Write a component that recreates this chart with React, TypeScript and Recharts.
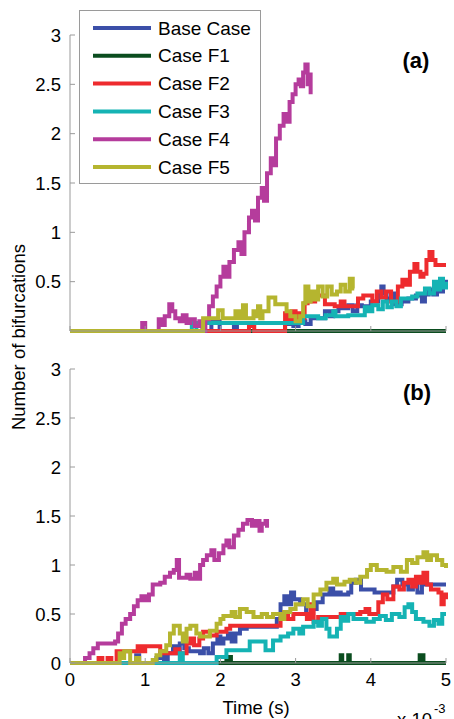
import { LineChart, Line, XAxis, YAxis } from 'recharts';

type Pt = [number, number];

// time in ms (axis reads x 10^-3 s), value = number of bifurcations
const seriesNames = ['Base Case', 'Case F1', 'Case F2', 'Case F3', 'Case F4', 'Case F5'];
const seriesColors = ['#3b4fa8', '#0b4d1f', '#ee2b2e', '#15b3b4', '#b53c9c', '#b5b52f'];
const xTicks = [0, 1, 2, 3, 4, 5];
const yTicks = [0, 0.5, 1, 1.5, 2, 2.5, 3];

// ---- panel (a) ----
const baseA: Pt[] = [
  [0, 0], [1.88, 0.1], [1.99, 0], [2.18, 0.05], [2.22, 0], [2.86, 0.07], [2.92, 0.1], [2.97, 0.05],
  [3.04, 0.1], [3.13, 0.07], [3.2, 0.13], [3.39, 0.2], [3.45, 0.15], [3.5, 0.2], [3.57, 0.23],
  [3.7, 0.26], [3.76, 0.2], [3.82, 0.26], [3.88, 0.25], [4.0, 0.3], [4.1, 0.38], [4.14, 0.45],
  [4.17, 0.38], [4.21, 0.33], [4.27, 0.38], [4.32, 0.27], [4.41, 0.3], [4.5, 0.33], [4.6, 0.36],
  [4.68, 0.3], [4.72, 0.37], [4.77, 0.42], [4.83, 0.37], [4.88, 0.47], [4.92, 0.4], [4.96, 0.5],
  [5, 0.45],
];
const f1A: Pt[] = [[0, 0], [5, 0]];
const f2A: Pt[] = [
  [0, 0], [2.38, 0.05], [2.45, 0], [2.86, 0.18], [2.9, 0.12], [2.95, 0.2], [3.0, 0.1], [3.04, 0.18],
  [3.08, 0.13], [3.12, 0.28], [3.16, 0.38], [3.2, 0.3], [3.26, 0.36], [3.39, 0.27], [3.52, 0.25],
  [3.6, 0.3], [3.65, 0.25], [3.83, 0.33], [3.9, 0.36], [4.02, 0.3], [4.08, 0.4], [4.14, 0.34],
  [4.2, 0.4], [4.27, 0.3], [4.36, 0.45], [4.42, 0.52], [4.47, 0.47], [4.52, 0.6], [4.58, 0.68],
  [4.62, 0.6], [4.66, 0.55], [4.7, 0.58], [4.74, 0.72], [4.78, 0.8], [4.82, 0.72], [4.86, 0.67],
  [5, 0.67],
];
const f3A: Pt[] = [
  [0, 0], [1.62, 0.08], [1.68, 0], [1.77, 0.08], [3.1, 0.15], [3.3, 0.13], [3.4, 0.16], [3.5, 0.2],
  [3.53, 0.15], [3.7, 0.16], [3.92, 0.24], [3.97, 0.2], [4.02, 0.26], [4.1, 0.22], [4.16, 0.3],
  [4.22, 0.24], [4.28, 0.3], [4.34, 0.25], [4.4, 0.33], [4.55, 0.35], [4.62, 0.38], [4.72, 0.43],
  [4.78, 0.38], [4.84, 0.5], [4.88, 0.42], [4.92, 0.53], [4.96, 0.44], [5, 0.5],
];
const f4A: Pt[] = [
  [0, 0], [0.96, 0.08], [1.0, 0], [1.18, 0.12], [1.22, 0.06], [1.26, 0.15], [1.32, 0.27], [1.36, 0.2],
  [1.4, 0.13], [1.46, 0.1], [1.5, 0.16], [1.55, 0.08], [1.6, 0.12], [1.66, 0.05], [1.72, 0.1],
  [1.76, 0], [1.8, 0.12], [1.85, 0.25], [1.9, 0.35], [1.95, 0.45], [2.0, 0.55], [2.04, 0.65],
  [2.08, 0.55], [2.12, 0.7], [2.18, 0.82], [2.24, 0.9], [2.28, 0.78], [2.32, 1.0], [2.38, 1.15],
  [2.42, 1.22], [2.46, 1.12], [2.5, 1.35], [2.55, 1.45], [2.58, 1.32], [2.62, 1.6], [2.67, 1.75],
  [2.7, 1.68], [2.74, 1.95], [2.79, 2.08], [2.84, 2.2], [2.88, 2.12], [2.92, 2.32], [2.96, 2.4],
  [3.0, 2.5], [3.04, 2.55], [3.07, 2.48], [3.1, 2.62], [3.13, 2.7], [3.16, 2.5], [3.18, 2.6],
  [3.2, 2.4],
];
const f5A: Pt[] = [
  [0, 0], [1.77, 0.13], [1.97, 0.21], [2.03, 0.13], [2.2, 0.2], [2.25, 0.13], [2.3, 0.26], [2.34, 0.13],
  [2.44, 0.2], [2.48, 0.15], [2.5, 0.25], [2.53, 0.13], [2.56, 0.2], [2.64, 0.34], [2.73, 0.27],
  [2.88, 0.2], [2.93, 0.15], [3.0, 0.1], [3.06, 0.15], [3.1, 0.28], [3.13, 0.45], [3.17, 0.3],
  [3.2, 0.4], [3.25, 0.32], [3.3, 0.45], [3.36, 0.35], [3.42, 0.45], [3.48, 0.37], [3.55, 0.4],
  [3.6, 0.47], [3.66, 0.4], [3.72, 0.53], [3.76, 0.43], [3.78, 0.43],
];

// ---- panel (b) ----
const baseB: Pt[] = [
  [0, 0], [0.88, 0.08], [0.92, 0], [1.15, 0.05], [1.2, 0.1], [1.25, 0.03], [1.3, 0.1], [1.37, 0.17],
  [1.42, 0.1], [1.46, 0.2], [1.52, 0.15], [1.58, 0.12], [1.73, 0.1], [1.78, 0.15], [1.84, 0.1],
  [1.9, 0.2], [1.96, 0.27], [2.0, 0.2], [2.04, 0.25], [2.1, 0.3], [2.15, 0.22], [2.2, 0.3],
  [2.26, 0.35], [2.35, 0.37], [2.75, 0.45], [2.8, 0.6], [2.85, 0.68], [2.9, 0.6], [2.94, 0.72],
  [2.98, 0.65], [3.06, 0.6], [3.14, 0.5], [3.2, 0.55], [3.28, 0.62], [3.36, 0.7], [3.45, 0.76],
  [3.5, 0.7], [3.55, 0.72], [3.6, 0.7], [3.7, 0.72], [3.74, 0.82], [3.8, 0.85], [3.87, 0.75],
  [4.05, 0.72], [4.3, 0.78], [4.35, 0.85], [4.42, 0.8], [4.5, 0.75], [4.56, 0.82], [4.62, 0.72],
  [4.68, 0.8], [4.75, 0.8], [5, 0.8],
];
const f1B: Pt[] = [
  [0, 0], [2.08, 0.06], [2.1, 0], [2.12, 0.06], [2.14, 0], [3.6, 0.08], [3.62, 0], [3.7, 0.08],
  [3.72, 0], [4.65, 0.08], [4.7, 0], [5, 0],
];
const f2B: Pt[] = [
  [0, 0], [0.38, 0.05], [0.43, 0], [0.5, 0.05], [0.55, 0], [0.62, 0.12], [0.9, 0.17], [0.95, 0.12],
  [1.0, 0.17], [1.2, 0.12], [1.25, 0.1], [1.4, 0.14], [1.45, 0.1], [1.55, 0.2], [1.6, 0.25],
  [1.65, 0.18], [1.72, 0.25], [1.77, 0.32], [1.86, 0.28], [1.95, 0.32], [2.08, 0.35], [2.13, 0.38],
  [2.35, 0.38], [2.8, 0.45], [2.85, 0.52], [2.9, 0.45], [2.97, 0.5], [3.15, 0.45], [3.2, 0.6],
  [3.24, 0.42], [3.3, 0.47], [3.6, 0.5], [3.86, 0.52], [3.93, 0.55], [3.98, 0.5], [4.1, 0.62],
  [4.16, 0.7], [4.22, 0.65], [4.3, 0.78], [4.38, 0.75], [4.44, 0.82], [4.5, 0.85], [4.55, 0.78],
  [4.6, 0.88], [4.65, 0.82], [4.7, 0.92], [4.75, 0.8], [4.8, 0.75], [4.9, 0.72], [4.94, 0.6],
  [4.97, 0.7], [5, 0.65],
];
const f3B: Pt[] = [
  [0, 0], [1.46, 0.1], [1.5, 0], [1.95, 0.06], [2.08, 0.13], [2.39, 0.22], [2.6, 0.13], [2.7, 0.23],
  [2.8, 0.27], [2.9, 0.3], [2.97, 0.35], [3.05, 0.3], [3.1, 0.37], [3.24, 0.42], [3.3, 0.38],
  [3.35, 0.45], [3.41, 0.35], [3.45, 0.27], [3.55, 0.35], [3.6, 0.47], [3.65, 0.43], [3.7, 0.5],
  [3.77, 0.45], [3.94, 0.42], [4.04, 0.45], [4.12, 0.48], [4.2, 0.44], [4.28, 0.5], [4.38, 0.47],
  [4.45, 0.57], [4.5, 0.6], [4.55, 0.52], [4.6, 0.45], [4.7, 0.42], [4.78, 0.38], [4.84, 0.44],
  [4.9, 0.4], [4.95, 0.5], [5, 0.5],
];
const f4B: Pt[] = [
  [0, 0], [0.2, 0.05], [0.26, 0.1], [0.31, 0.15], [0.37, 0.2], [0.6, 0.22], [0.64, 0.3], [0.69, 0.4],
  [0.74, 0.45], [0.8, 0.5], [0.85, 0.58], [0.9, 0.64], [0.95, 0.68], [1.0, 0.64], [1.05, 0.7],
  [1.1, 0.8], [1.2, 0.82], [1.26, 0.88], [1.33, 0.92], [1.38, 0.95], [1.42, 1.05], [1.45, 0.87],
  [1.55, 0.9], [1.6, 0.86], [1.66, 0.92], [1.7, 0.86], [1.73, 1.0], [1.77, 1.05], [1.82, 1.1],
  [1.88, 1.15], [1.92, 1.05], [1.98, 1.12], [2.04, 1.2], [2.08, 1.25], [2.12, 1.18], [2.18, 1.3],
  [2.24, 1.36], [2.3, 1.42], [2.36, 1.46], [2.42, 1.4], [2.47, 1.45], [2.52, 1.35], [2.55, 1.42],
  [2.6, 1.45], [2.62, 1.38],
];
const f5B: Pt[] = [
  [0, 0], [0.66, 0.1], [0.7, 0.05], [0.72, 0.12], [0.8, 0], [0.88, 0.05], [0.92, 0], [1.1, 0.03],
  [1.15, 0.08], [1.2, 0.12], [1.28, 0.18], [1.33, 0.3], [1.38, 0.38], [1.46, 0.3], [1.5, 0.22],
  [1.55, 0.35], [1.6, 0.38], [1.68, 0.3], [1.73, 0.27], [1.86, 0.33], [1.95, 0.4], [2.0, 0.45],
  [2.04, 0.48], [2.15, 0.52], [2.2, 0.47], [2.26, 0.55], [2.35, 0.52], [2.44, 0.47], [2.55, 0.5],
  [2.62, 0.47], [2.7, 0.5], [2.8, 0.45], [2.85, 0.52], [2.93, 0.55], [3.0, 0.6], [3.1, 0.65],
  [3.16, 0.58], [3.24, 0.7], [3.33, 0.75], [3.41, 0.82], [3.5, 0.86], [3.55, 0.8], [3.65, 0.83],
  [3.72, 0.85], [3.8, 0.82], [3.86, 0.88], [3.95, 0.95], [4.0, 1.0], [4.08, 0.95], [4.21, 0.93],
  [4.3, 0.98], [4.4, 0.93], [4.48, 1.05], [4.55, 1.02], [4.62, 1.08], [4.7, 1.13], [4.75, 1.05],
  [4.8, 1.1], [4.88, 1.05], [4.95, 1.0], [5, 0.97],
];

const panelA = [baseA, f1A, f2A, f3A, f4A, f5A];
const panelB = [baseB, f1B, f2B, f3B, f4B, f5B];

const FONT = '"Liberation Sans", Arial, Helvetica, sans-serif';
const AXIS = '#9a9a9a';
const blank = () => '';

function Panel({
  series,
  top,
  height,
  marginTop,
  axisHeight,
  labels,
}: {
  series: Pt[][];
  top: number;
  height: number;
  marginTop: number;
  axisHeight: number;
  labels: boolean;
}) {
  return (
    <div style={{ position: 'absolute', left: 0, top }}>
      <LineChart width={454} height={height} margin={{ top: marginTop, right: 8, bottom: 0, left: 0 }}>
        <XAxis
          dataKey="t"
          type="number"
          domain={[0, 5]}
          ticks={xTicks}
          height={axisHeight}
          stroke={AXIS}
          tickSize={-5}
          tickMargin={15}
          tick={{ fill: '#000', fontSize: 18.5, fontFamily: FONT }}
          tickFormatter={labels ? undefined : blank}
        />
        <XAxis
          xAxisId="top"
          orientation="top"
          type="number"
          domain={[0, 5]}
          ticks={xTicks}
          height={0}
          stroke={AXIS}
          tickSize={-5}
          tickFormatter={blank}
        />
        <YAxis
          type="number"
          domain={[0, 3]}
          ticks={yTicks}
          width={70}
          stroke={AXIS}
          tickSize={-5}
          tickMargin={14}
          tick={{ fill: '#000', fontSize: 18.5, fontFamily: FONT }}
        />
        <YAxis
          yAxisId="right"
          orientation="right"
          type="number"
          domain={[0, 3]}
          ticks={yTicks}
          width={0}
          stroke={AXIS}
          tickSize={-5}
          tickFormatter={blank}
        />
        {series.map((pts, i) => (
          <Line
            key={seriesNames[i]}
            name={seriesNames[i]}
            data={pts.map(([t, v]) => ({ t, v }))}
            dataKey="v"
            type="stepAfter"
            stroke={seriesColors[i]}
            strokeWidth={4}
            dot={false}
            activeDot={false}
            isAnimationActive={false}
          />
        ))}
      </LineChart>
    </div>
  );
}

function LegendBox() {
  return (
    <div
      style={{
        position: 'absolute',
        left: 79,
        top: 10,
        width: 180,
        height: 172,
        border: '1px solid #9a9a9a',
        background: '#fff',
      }}
    >
      <svg width={180} height={172} style={{ display: 'block' }}>
        {seriesNames.map((name, i) => {
          const y = 17 + i * 27.8;
          return (
            <g key={name}>
              <line x1={13} x2={71} y1={y} y2={y} stroke={seriesColors[i]} strokeWidth={4} />
              <text x={78} y={y} dominantBaseline="central" fontSize={19} fontFamily={FONT} fill="#000">
                {name}
              </text>
            </g>
          );
        })}
      </svg>
    </div>
  );
}

export default function App() {
  return (
    <div style={{ position: 'absolute', left: 0, top: 0, width: 454, height: 719, background: '#fff', overflow: 'hidden' }}>
      <Panel series={panelA} top={0} height={340} marginTop={35} axisHeight={9} labels={false} />
      <Panel series={panelB} top={340} height={379} marginTop={29} axisHeight={56} labels />
      <LegendBox />
      <svg width={454} height={719} style={{ position: 'absolute', left: 0, top: 0, pointerEvents: 'none' }}>
        <g fontFamily={FONT} fill="#000">
          <text x={416} y={60} textAnchor="middle" dominantBaseline="central" fontSize={22} fontWeight="bold">
            (a)
          </text>
          <text x={417} y={392} textAnchor="middle" dominantBaseline="central" fontSize={22} fontWeight="bold">
            (b)
          </text>
          <text
            x={18}
            y={337}
            transform="rotate(-90 18 337)"
            textAnchor="middle"
            dominantBaseline="central"
            fontSize={18.5}
          >
            Number of bifurcations
          </text>
          <text x={256} y={707} textAnchor="middle" dominantBaseline="central" fontSize={18.5}>
            Time (s)
          </text>
          <text x={397} y={726} fontSize={18.5}>
            x 10
          </text>
          <text x={434} y={713} fontSize={13}>
            -3
          </text>
        </g>
      </svg>
    </div>
  );
}
